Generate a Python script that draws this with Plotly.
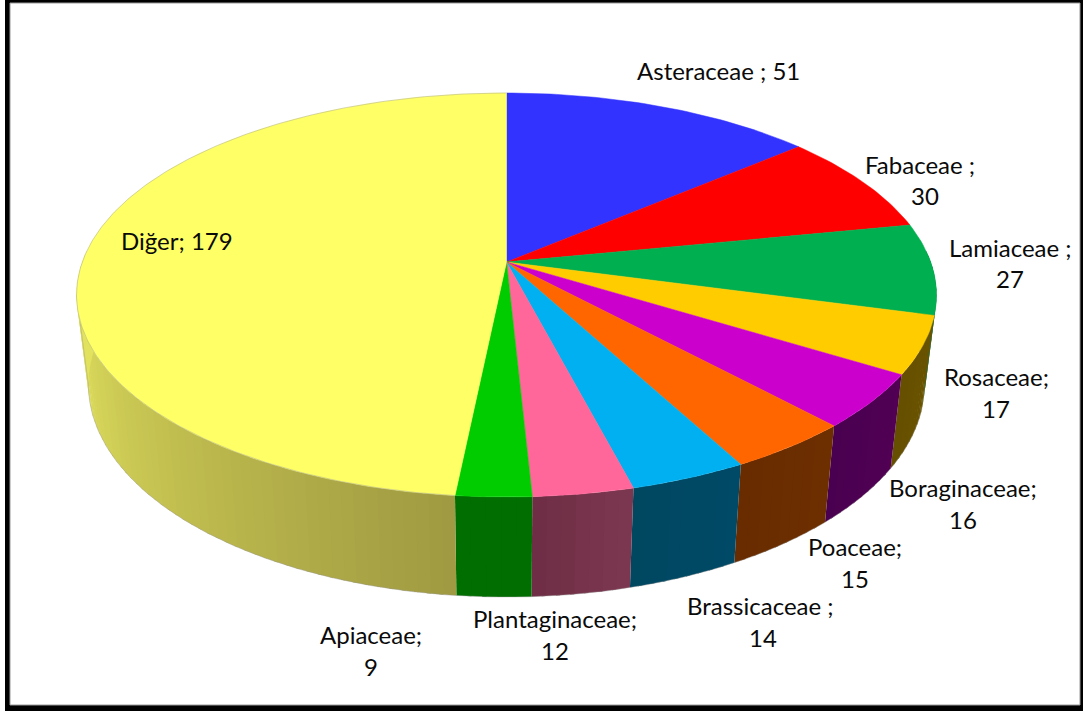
import numpy as np
import plotly.graph_objects as go

categories = ["Asteraceae", "Fabaceae", "Lamiaceae", "Rosaceae", "Boraginaceae",
              "Poaceae", "Brassicaceae", "Plantaginaceae", "Apiaceae", "Diğer"]
values = [51, 30, 27, 17, 16, 15, 14, 12, 9, 179]
top_colors = ["#3333ff", "#ff0000", "#00b050", "#ffcc00", "#cc00cc",
              "#ff6600", "#00b0f0", "#ff6699", "#00cc00", "#ffff66"]
# wall colour at the start and end of each slice (clockwise)
wall_start = ["#3333ff", "#660000", "#006030", "#6b5500", "#520054",
              "#6e3000", "#004a68", "#7e3852", "#006e00", "#a09a42"]
wall_end = ["#3333ff", "#660000", "#006030", "#665000", "#4a0050",
            "#682c00", "#004860", "#6e2e44", "#006e00", "#e2e25e"]
label_text = [["Asteraceae ; 51"], ["Fabaceae ;", "30"], ["Lamiaceae ;", "27"],
              ["Rosaceae;", "17"], ["Boraginaceae;", "16"], ["Poaceae;", "15"],
              ["Brassicaceae ;", "14"], ["Plantaginaceae;", "12"], ["Apiaceae;", "9"],
              ["Diğer; 179"]]
label_x = [[718], [920, 925], [1010, 1010], [996, 996], [963, 963], [855, 855],
           [760, 763], [555, 555], [371, 371], [177]]
label_y = [[70], [164, 195], [247, 278], [376, 408], [487, 519], [546, 578],
           [605, 637], [618, 650], [634, 666], [240]]

W, H = 1083, 711
CX = 506.5
C = 0.1634


def project(theta, k, a, b):
    """Perspective view of the disc; theta in radians clockwise from the top."""
    u, v = np.sin(theta), np.cos(theta)
    d = 1 + C * v
    return CX + k * u / d, (a * v + b) / d


def top_pt(t):
    return project(t, 424.2, -153.8, 262.0)


def bot_pt(t):
    return project(t, 412.5, -149.5, 350.0)


def hex2rgb(h):
    return np.array([int(h[i:i + 2], 16) for i in (1, 3, 5)], float)


fig = go.Figure()
vals = np.array(values, float)
edges = np.concatenate([[0], np.cumsum(vals)]) / vals.sum() * 2 * np.pi
LIMB = np.arccos(-C)  # where the disc outline turns, right side


def poly(x, y, color, line=None, width=0.0):
    fig.add_trace(go.Scatter(
        x=np.append(x, x[0]), y=np.append(y, y[0]), mode="lines", fill="toself",
        fillcolor=color, line=dict(color=line or color, width=width),
        hoverinfo="skip", showlegend=False))


# walls
for i in range(len(values)):
    t0, t1 = edges[i], edges[i + 1]
    n = max(2, int((t1 - t0) / np.radians(1.5)))
    tt = np.linspace(t0, t1, n + 1)
    c0, c1 = hex2rgb(wall_start[i]), hex2rgb(wall_end[i])
    for j in range(n):
        mid = 0.5 * (tt[j] + tt[j + 1])
        if np.cos(mid) > 0.05:
            continue
        f = (mid - t0) / (t1 - t0)
        if i == len(values) - 1:
            # the last slice fades over its visible front part only
            f = min(1.0, (mid - t0) / np.radians(75))
        col = c0 + (c1 - c0) * f
        end = min(tt[j + 1] + np.radians(0.5), t1)
        ss = np.linspace(tt[j], end, 5)
        xt, yt = top_pt(ss)
        xb, yb = bot_pt(ss)
        poly(np.r_[xt, xb[::-1]], np.r_[yt, yb[::-1]],
             "rgb(%d,%d,%d)" % tuple(col))

# silhouette hairline of the base and its straight left edge
ss = np.linspace(edges[3] + 0.01, 2 * np.pi - LIMB, 300)
xb, yb = bot_pt(ss)
xe, ye = top_pt(np.array([2 * np.pi - LIMB]))
fig.add_trace(go.Scatter(x=np.r_[xb, xe], y=np.r_[yb, ye], mode="lines",
                         line=dict(color="rgba(150,150,150,0.4)", width=1),
                         hoverinfo="skip", showlegend=False))

# top face
for i in range(len(values)):
    ss = np.linspace(edges[i], edges[i + 1], max(8, int((edges[i + 1] - edges[i]) * 60)))
    xt, yt = top_pt(ss)
    poly(np.r_[CX, xt], np.r_[262.0, yt], top_colors[i], width=0.5)

ss = np.linspace(edges[9], 2 * np.pi, 300)
xt, yt = top_pt(ss)
fig.add_trace(go.Scatter(x=xt, y=yt, mode="lines", line=dict(color="rgba(150,150,150,0.4)", width=1),
                         hoverinfo="skip", showlegend=False))

# labels
anns = []
for lines, xs, ys in zip(label_text, label_x, label_y):
    for s, x, y in zip(lines, xs, ys):
        anns.append(dict(x=x, y=y, xref="x", yref="y", text=s, showarrow=False,
                         xanchor="center", yanchor="middle",
                         font=dict(family="Lato", size=24, color="#0a0a0a")))

fig.update_layout(
    width=W, height=H, margin=dict(l=0, r=0, t=0, b=0),
    paper_bgcolor="white", plot_bgcolor="white", showlegend=False,
    xaxis=dict(range=[0, W], visible=False, fixedrange=True),
    yaxis=dict(range=[H, 0], visible=False, fixedrange=True),
    annotations=anns,
    shapes=[
        dict(type="rect", xref="x", yref="y", x0=5, y0=-2, x1=W + 2, y1=H + 2,
             fillcolor="black", line=dict(width=0), layer="below"),
        dict(type="rect", xref="x", yref="y", x0=10, y0=3, x1=1080, y1=705,
             fillcolor="white", line=dict(color="#999999", width=1), layer="below"),
    ],
)
fig.write_html("out.html", config={"displayModeBar": False},
               post_script="document.body.style.margin='0';document.body.style.overflow='hidden';")
